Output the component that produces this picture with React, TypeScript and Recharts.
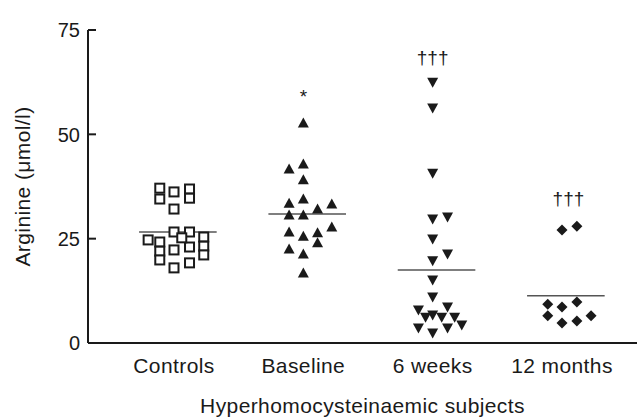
import React from "react";
import {
  ScatterChart,
  Scatter,
  XAxis,
  YAxis,
  ReferenceLine,
} from "recharts";

const CATEGORIES = ["Controls", "Baseline", "6 weeks", "12 months"];
const Y_TICKS = [0, 25, 50, 75];

// dx = horizontal jitter around the category centre, v = arginine (µmol/l)
const controls = [
  { dx: -0.11, v: 37.1 },
  { dx: -0.11, v: 34.5 },
  { dx: 0.0, v: 36.2 },
  { dx: 0.12, v: 36.9 },
  { dx: 0.12, v: 34.7 },
  { dx: 0.0, v: 32.1 },
  { dx: -0.2, v: 24.7 },
  { dx: -0.11, v: 24.2 },
  { dx: -0.11, v: 22.0 },
  { dx: -0.11, v: 19.9 },
  { dx: 0.0, v: 26.6 },
  { dx: 0.0, v: 22.3 },
  { dx: 0.0, v: 18.0 },
  { dx: 0.12, v: 26.6 },
  { dx: 0.12, v: 23.0 },
  { dx: 0.12, v: 19.2 },
  { dx: 0.06, v: 25.2 },
  { dx: 0.23, v: 25.4 },
  { dx: 0.23, v: 23.2 },
  { dx: 0.23, v: 21.1 },
];

const baseline = [
  { dx: 0.0, v: 52.7 },
  { dx: -0.11, v: 41.7 },
  { dx: 0.0, v: 42.9 },
  { dx: 0.0, v: 39.1 },
  { dx: -0.11, v: 33.5 },
  { dx: 0.0, v: 34.5 },
  { dx: 0.11, v: 32.1 },
  { dx: 0.22, v: 33.3 },
  { dx: -0.11, v: 30.7 },
  { dx: 0.0, v: 30.7 },
  { dx: 0.22, v: 27.8 },
  { dx: -0.11, v: 26.6 },
  { dx: 0.0, v: 25.6 },
  { dx: 0.11, v: 26.4 },
  { dx: 0.11, v: 24.0 },
  { dx: -0.11, v: 22.5 },
  { dx: 0.0, v: 21.3 },
  { dx: 0.0, v: 16.8 },
];

const sixWeeks = [
  { dx: 0.0, v: 62.5 },
  { dx: 0.0, v: 56.3 },
  { dx: 0.0, v: 40.7 },
  { dx: 0.0, v: 29.7 },
  { dx: 0.115, v: 30.2 },
  { dx: 0.0, v: 24.9 },
  { dx: 0.115, v: 21.3 },
  { dx: 0.0, v: 19.7 },
  { dx: 0.0, v: 15.1 },
  { dx: 0.0, v: 11.0 },
  { dx: -0.11, v: 7.9 },
  { dx: 0.115, v: 8.6 },
  { dx: -0.055, v: 6.2 },
  { dx: 0.0, v: 6.7 },
  { dx: 0.07, v: 6.2 },
  { dx: 0.17, v: 6.2 },
  { dx: 0.225, v: 4.3 },
  { dx: -0.11, v: 3.6 },
  { dx: 0.0, v: 2.4 },
  { dx: 0.115, v: 3.6 },
];

const twelveMonths = [
  { dx: 0.0, v: 27.1 },
  { dx: 0.115, v: 28.0 },
  { dx: -0.11, v: 9.3 },
  { dx: 0.0, v: 8.6 },
  { dx: 0.115, v: 9.8 },
  { dx: -0.11, v: 6.5 },
  { dx: 0.0, v: 4.8 },
  { dx: 0.115, v: 5.3 },
  { dx: 0.225, v: 6.5 },
];

const MEANS = [26.6, 30.9, 17.5, 11.3];

const ANNOTATIONS = [
  { x: 2, y: 59, text: "*" },
  { x: 3, y: 68.5, text: "†††" },
  { x: 4.05, y: 34.7, text: "†††" },
];

const FONT = "'Liberation Sans', Arial, Helvetica, sans-serif";
const INK = "#1a1a1a";

const toPoints = (group: { dx: number; v: number }[], i: number) =>
  group.map((p) => ({ x: i + 1 + p.dx, y: p.v }));

const OpenSquare = (props: any) => {
  const { cx, cy } = props;
  return (
    <rect x={cx - 4.5} y={cy - 4.5} width={9} height={9} fill="#fff" stroke={INK} strokeWidth={2} />
  );
};

const TriUp = (props: any) => {
  const { cx, cy } = props;
  return <polygon points={`${cx},${cy - 5.5} ${cx + 5.5},${cy + 4.5} ${cx - 5.5},${cy + 4.5}`} fill={INK} />;
};

const TriDown = (props: any) => {
  const { cx, cy } = props;
  return <polygon points={`${cx - 5.5},${cy - 4.5} ${cx + 5.5},${cy - 4.5} ${cx},${cy + 5.5}`} fill={INK} />;
};

const Diamond = (props: any) => {
  const { cx, cy } = props;
  return <polygon points={`${cx},${cy - 5.5} ${cx + 5.5},${cy} ${cx},${cy + 5.5} ${cx - 5.5},${cy}`} fill={INK} />;
};

const Note = (props: any) => {
  const { cx, cy, payload } = props;
  return (
    <text x={cx} y={cy} dy="0.35em" textAnchor="middle" fontFamily={FONT} fontSize={19} fill={INK}>
      {payload.text}
    </text>
  );
};

const YTick = (props: any) => {
  const { x, y, payload } = props;
  return (
    <g>
      <line x1={x + 8} x2={x + 16} y1={y} y2={y} stroke={INK} strokeWidth={2} />
      <text x={x} y={y} dy="0.36em" textAnchor="end" fontFamily={FONT} fontSize={20} fill={INK}>
        {payload.value}
      </text>
    </g>
  );
};

export default function App() {
  return (
    <div style={{ position: "absolute", left: 0, top: 0, background: "#fff" }}>
      <ScatterChart
        width={637}
        height={420}
        margin={{ top: 30, right: 0, bottom: 47, left: 0 }}
      >
        <XAxis
          type="number"
          dataKey="x"
          domain={[0.335, 4.58]}
          ticks={[1, 2, 3, 4]}
          tickFormatter={(v) => CATEGORIES[v - 1]}
          allowDataOverflow
          height={30}
          tickLine={false}
          tickSize={0}
          tickMargin={15}
          axisLine={{ stroke: INK, strokeWidth: 2 }}
          tick={{ fill: INK, fontSize: 21, fontFamily: FONT, letterSpacing: 0.4 }}
          label={{
            value: "Hyperhomocysteinaemic subjects",
            position: "bottom",
            offset: 25,
            style: { fill: INK, fontSize: 21, fontFamily: FONT, letterSpacing: 0.4 },
          }}
        />
        <YAxis
          type="number"
          dataKey="y"
          domain={[0, 75]}
          ticks={Y_TICKS}
          width={88}
          tickLine={false}
          tickSize={0}
          tickMargin={8}
          axisLine={{ stroke: INK, strokeWidth: 2 }}
          tick={<YTick />}
          label={{
            value: "Arginine (μmol/l)",
            angle: -90,
            position: "insideLeft",
            offset: 23,
            style: { textAnchor: "middle", fill: INK, fontSize: 21, fontFamily: FONT, letterSpacing: 0.4 },
          }}
        />
        {MEANS.map((m, i) => (
          <ReferenceLine
            key={i}
            segment={[
              { x: i + 1 - 0.27, y: m },
              { x: i + 1 + 0.33, y: m },
            ]}
            stroke="#555"
            strokeWidth={1.5}
          />
        ))}
        <Scatter data={toPoints(controls, 0)} shape={<OpenSquare />} isAnimationActive={false} />
        <Scatter data={toPoints(baseline, 1)} shape={<TriUp />} isAnimationActive={false} />
        <Scatter data={toPoints(sixWeeks, 2)} shape={<TriDown />} isAnimationActive={false} />
        <Scatter data={toPoints(twelveMonths, 3)} shape={<Diamond />} isAnimationActive={false} />
        <Scatter data={ANNOTATIONS} shape={<Note />} isAnimationActive={false} />
      </ScatterChart>
    </div>
  );
}
